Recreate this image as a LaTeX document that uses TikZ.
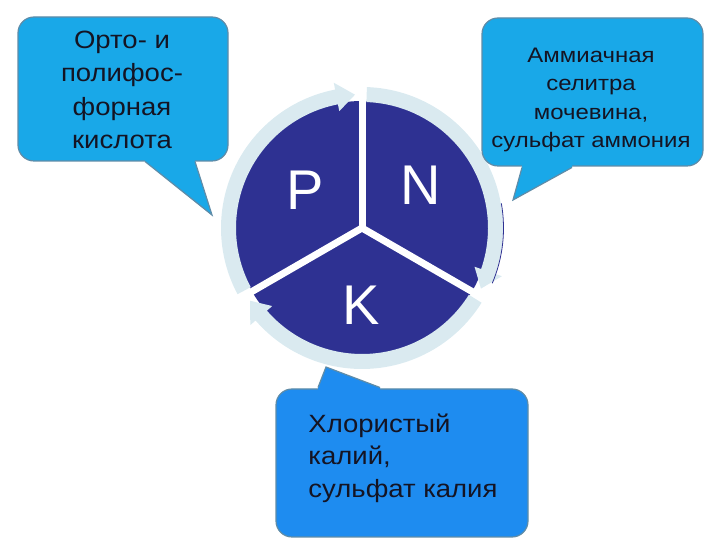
\documentclass[tikz,border=0pt]{standalone}
\usepackage{fontspec}
\setmainfont{Liberation Sans}
\newfontfamily\bubblefont[FakeStretch=1.1]{Liberation Sans}
\newfontfamily\widebubblefont[FakeStretch=1.14]{Liberation Sans}
\usepackage{xcolor}
\usepackage{tikz}
\usetikzlibrary{calc}

\definecolor{bubbleblue}{RGB}{25,168,232}
\definecolor{bubbleblue2}{RGB}{30,140,240}
\definecolor{bubbleedge}{RGB}{95,140,168}
\definecolor{discblue}{RGB}{46,49,146}
\definecolor{ringblue}{RGB}{218,234,240}
\definecolor{textdark}{RGB}{20,20,35}

\begin{document}
\begin{tikzpicture}[x=1pt,y=1pt,
  bubble/.style={draw=bubbleedge,line width=1.2pt,fill=bubbleblue,rounded corners=16pt,inner sep=0pt},
  bubbletext/.style={text=textdark,align=center,inner sep=0pt},
  tailedge/.style={draw=bubbleedge,line width=1.2pt},
  letter/.style={text=white,font=\fontsize{56}{56}\selectfont,anchor=base},
  spoke/.style={white,line width=7pt},
  ring/.style={fill=ringblue}]

    \useasboundingbox (0,0) rectangle (720,540);

    % The disc
	\node [circle,fill=discblue,minimum size=254pt,inner sep=0pt] at (362,312) (disc) {};

	% Ring arrows and spokes
	\begin{scope}[shift={(disc.center)}]
	\fill[ring] (88:141) arc[start angle=88,end angle=-19,radius=141] -- (-19:148) -- (-27:133.5) -- (-19:119) -- (-19:126) arc[start angle=-19,end angle=88,radius=126] -- cycle;
	\fill[ring] (-32:141) arc[start angle=-32,end angle=-139,radius=141] -- (-139:148) -- (-147:133.5) -- (-139:119) -- (-139:126) arc[start angle=-139,end angle=-32,radius=126] -- cycle;
	\fill[ring] (208:141) arc[start angle=208,end angle=101,radius=141] -- (101:148) -- (93:133.5) -- (101:119) -- (101:126) arc[start angle=101,end angle=208,radius=126] -- cycle;
	\draw[discblue,line width=0.8pt] (10:141.5) arc[start angle=10,end angle=-23,radius=141.5];

	\coordinate (hub) at (0,0);
	\coordinate (spokeN) at (90:140);
	\coordinate (spokeK) at (210:135);
	\coordinate (spokeR) at (-30:137);
	\end{scope}

	\draw[spoke] (hub) -- (spokeN);
	\draw[spoke] (hub) -- (spokeK);
	\draw[spoke] (hub) -- (spokeR);

	% Letters
	\node [letter] at (305,330) (P) {P};
	\node [letter] at (421,335) (N) {N};
	\node [letter] at (361,215) (K) {K};

	% Callouts
	\node [bubble,minimum width=210pt,minimum height=144pt] at (123,451) (ortho) {};
	\node [bubbletext,font=\bubblefont\fontsize{25}{33.3}\selectfont] at (122,450) (orthoText) {Орто- и\\полифос-\\форная\\кислота};
	\coordinate (orthoL) at (145,378.5);
	\coordinate (orthoR) at (195,378.5);
	\coordinate (orthoTip) at (212,325);
	\fill[bubbleblue] (orthoL) -- (orthoTip) -- (orthoR) -- ++(0,4) -| (orthoL);
	\draw[tailedge] (orthoL) -- (orthoTip) -- (orthoR);

	\node [bubble,minimum width=221pt,minimum height=148pt] at (592.5,448) (azot) {};
	\node [bubbletext,font=\widebubblefont\fontsize{21}{28.5}\selectfont] at (591,440) (azotText) {Аммиачная\\селитра\\мочевина,\\сульфат аммония};
	\coordinate (azotL) at (522,372.5);
	\coordinate (azotR) at (572,372.5);
	\coordinate (azotTip) at (513,340);
	\fill[bubbleblue] (azotL) -- (azotTip) -- (azotR) -- ++(0,4) -| (azotL);
	\draw[tailedge] (azotL) -- (azotTip) -- (azotR);

	\node [bubble,fill=bubbleblue2,minimum width=252pt,minimum height=148pt] at (402,77) (kalij) {};
	\node [bubbletext,align=left,font=\bubblefont\fontsize{25}{32.5}\selectfont] at (403,82) (kalijText) {Хлористый\\калий,\\сульфат калия};
	\coordinate (kalijL) at (318,152.5);
	\coordinate (kalijR) at (380,152.5);
	\coordinate (kalijTip) at (326,173);
	\fill[bubbleblue2] (kalijL) -- (kalijTip) -- (kalijR) -- ++(0,-4) -| (kalijL);
	\draw[tailedge] (kalijL) -- (kalijTip) -- (kalijR);

\end{tikzpicture}
\end{document}
